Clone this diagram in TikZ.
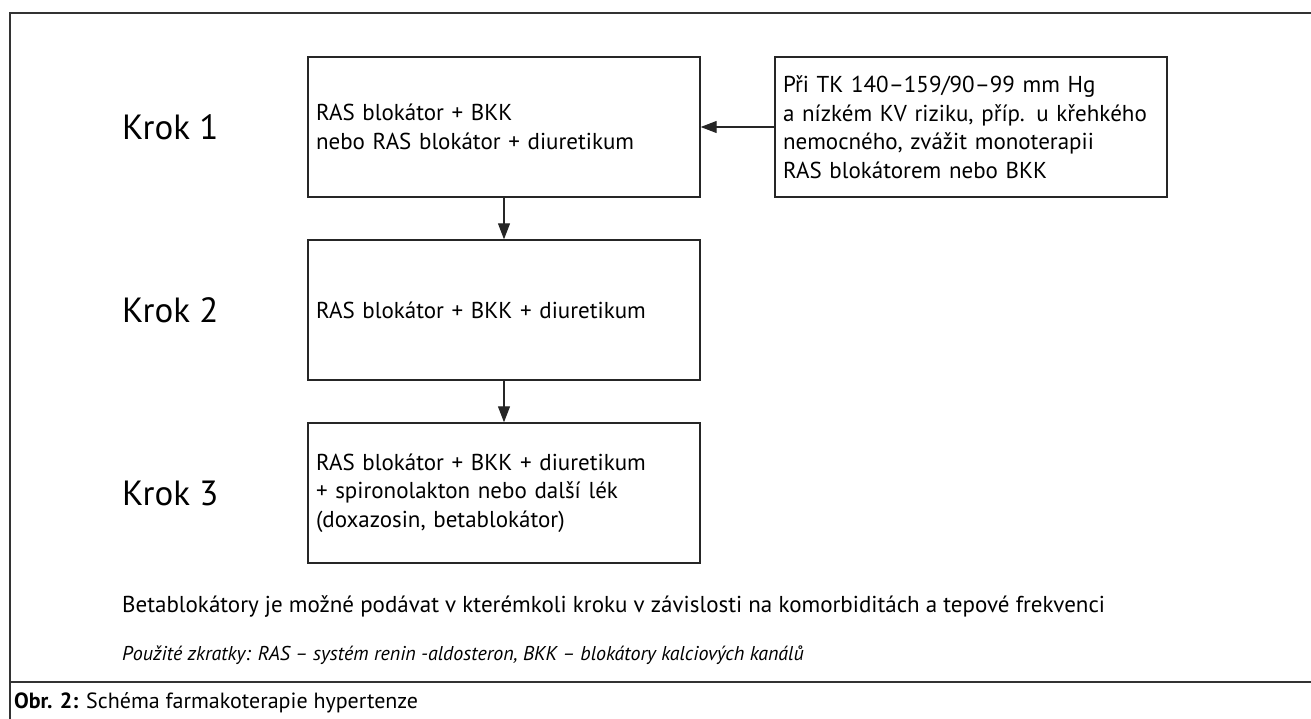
\documentclass[tikz,border=0pt]{standalone}
\usepackage{fontspec}
\setmainfont{PT Sans}
\usetikzlibrary{arrows.meta,positioning}

\begin{document}
\begin{tikzpicture}[x=1pt,y=-1pt,
    box/.style={draw=black!85, line width=1.4pt, minimum width=392pt, minimum height=140pt,
      text width=376pt, inner sep=8pt, align=left, font=\fontsize{23}{28.5}\selectfont},
    krok/.style={anchor=west, inner sep=0pt, font=\fontsize{35}{40}\selectfont},
    note/.style={anchor=west, inner sep=0pt},
    arr/.style={draw=black!85, line width=1.2pt, -{Triangle[width=12pt,length=16pt]}}]

    \useasboundingbox (0,0) rectangle (1311,719);

    % the frame
    \draw[line width=1.4pt, black!80] (10,719) -- (10,13) -- (1311,13);
    \draw[line width=2.5pt, black!80] (10,682) -- (1311,682);

    % these are the steps
    \node[krok] (k1) at (122,127) {Krok 1};
    \node[krok] (k2) at (122,310) {Krok 2};
    \node[krok] (k3) at (122,493) {Krok 3};

    \node[box] (s1) at (504,127) {RAS blokátor + BKK\\nebo RAS blokátor + diuretikum};
    \node[box] (s2) at (504,310) {RAS blokátor + BKK + diuretikum};
    \node[box] (s3) at (504,493) {RAS blokátor + BKK + diuretikum\\+ spironolakton nebo další lék\\(doxazosin, betablokátor)};
    \node[box] (side) at (971,127) {Při TK 140–159/90–99 mm Hg\\a nízkém KV riziku, příp. u křehkého\\nemocného, zvážit monoterapii\\RAS blokátorem nebo BKK};

    \draw[arr] (s1) -- (s2);
    \draw[arr] (s2) -- (s3);
    \draw[arr] (side) -- (s1);

    % notes and caption
    \node[note, font=\fontsize{23}{27}\selectfont] (beta) at (122,607)
      {Betablokátory je možné podávat v kterémkoli kroku v závislosti na komorbiditách a tepové frekvenci};
    \node[note, font=\fontsize{20}{24}\selectfont\itshape] (abbr) at (122,655)
      {Použité zkratky: RAS – systém renin -aldosteron, BKK – blokátory kalciových kanálů};
    \node[note, font=\fontsize{22}{26}\selectfont] (cap) at (14,703)
      {\textbf{Obr. 2:} Schéma farmakoterapie hypertenze};

\end{tikzpicture}
\end{document}
